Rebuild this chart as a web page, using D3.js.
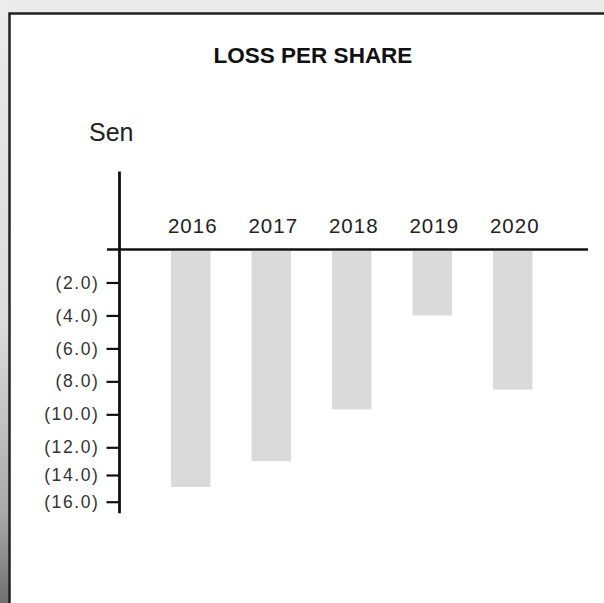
<!DOCTYPE html>
<html>
<head>
<meta charset="utf-8">
<script src="https://cdn.jsdelivr.net/npm/d3@7"></script>
<style>
  html, body { margin:0; padding:0; background:#ebebeb; }
  svg { display:block; }
  text { font-family: "Liberation Sans", Arial, sans-serif; }
</style>
</head>
<body>
<script>
'use strict';

var years = ['2016', '2017', '2018', '2019', '2020']
  , lossPerShare = [-14.9, -13.0, -9.7, -4.0, -8.5]
  , tickValues = [-2, -4, -6, -8, -10, -12, -14, -16]
  , title = 'LOSS PER SHARE'
  , unit = 'Sen';

var width = 604
  , height = 603;

var svg = d3.select('body').append('svg')
  .attr('width', width)
  .attr('height', height);

// page behind the panel, shaded down the left edge
var grad = svg.append('defs').append('linearGradient')
  .attr('id', 'edge')
  .attr('x1', 0).attr('y1', 0).attr('x2', 0).attr('y2', 1);
grad.append('stop').attr('offset', '0%').attr('stop-color', '#ececec');
grad.append('stop').attr('offset', '55%').attr('stop-color', '#dadada');
grad.append('stop').attr('offset', '85%').attr('stop-color', '#a9a9a9');
grad.append('stop').attr('offset', '100%').attr('stop-color', '#707070');

svg.append('rect')
  .attr('width', width).attr('height', height)
  .attr('fill', '#ebebeb');
svg.append('rect')
  .attr('width', 10).attr('height', height)
  .attr('fill', 'url(#edge)');

svg.append('rect')
  .attr('x', 9.5).attr('y', 13.5)
  .attr('width', width).attr('height', height)
  .attr('fill', '#fff')
  .attr('stroke', '#222')
  .attr('stroke-width', 2.5);

// scales -- the printed axis squeezes the last two ticks, so the
// scale is piecewise to keep bars and ticks in step with the picture
var x = d3.scaleBand()
  .domain(years)
  .range([150.5, 553])
  .paddingInner(0.51)
  .paddingOuter(0.255);

var y = d3.scaleLinear()
  .domain([0, -12, -14, -16])
  .range([249.5, 447.3, 475, 501.7]);

var axisX = 119.5;

svg.append('text')
  .attr('x', 313)
  .attr('y', 63)
  .attr('text-anchor', 'middle')
  .attr('font-size', 22.5)
  .attr('font-weight', 'bold')
  .attr('fill', '#111')
  .text(title);

svg.append('text')
  .attr('x', 89)
  .attr('y', 141)
  .attr('font-size', 25)
  .attr('fill', '#222')
  .text(unit);

// bars
svg.append('g').selectAll('rect')
  .data(years)
  .join('rect')
  .attr('x', function(d){ return x(d); })
  .attr('y', y(0) + 1.5)
  .attr('width', x.bandwidth())
  .attr('height', function(d, i){ return y(lossPerShare[i]) - y(0) - 1.5; })
  .attr('fill', '#dadada');

// year labels sit above the zero line
svg.append('g').selectAll('text')
  .data(years)
  .join('text')
  .attr('x', function(d){ return x(d) + x.bandwidth() / 2 + 2; })
  .attr('y', 233)
  .attr('text-anchor', 'middle')
  .attr('font-size', 20.5)
  .attr('letter-spacing', 1)
  .attr('fill', '#222')
  .text(function(d){ return d; });

// y axis
var yAxis = d3.axisLeft(y)
  .tickValues(tickValues)
  .tickSize(13)
  .tickPadding(7)
  .tickFormat(function(d){ return '(' + Math.abs(d).toFixed(1) + ')'; });

var gy = svg.append('g')
  .attr('transform', 'translate(' + axisX + ',0)')
  .call(yAxis);

gy.select('.domain').remove();
gy.selectAll('.tick line')
  .attr('stroke', '#111')
  .attr('stroke-width', 2.2);
gy.selectAll('.tick text')
  .attr('font-family', '"Liberation Sans", Arial, sans-serif')
  .attr('font-size', 17.5)
  .attr('letter-spacing', 1.6)
  .attr('fill', '#333');

svg.append('line')
  .attr('x1', axisX).attr('x2', axisX)
  .attr('y1', y(0) - 78)
  .attr('y2', y(-16) + 11.5)
  .attr('stroke', '#111')
  .attr('stroke-width', 2.8);

svg.append('line')
  .attr('x1', 107).attr('x2', 588)
  .attr('y1', y(0)).attr('y2', y(0))
  .attr('stroke', '#111')
  .attr('stroke-width', 2.6);
</script>
</body>
</html>
